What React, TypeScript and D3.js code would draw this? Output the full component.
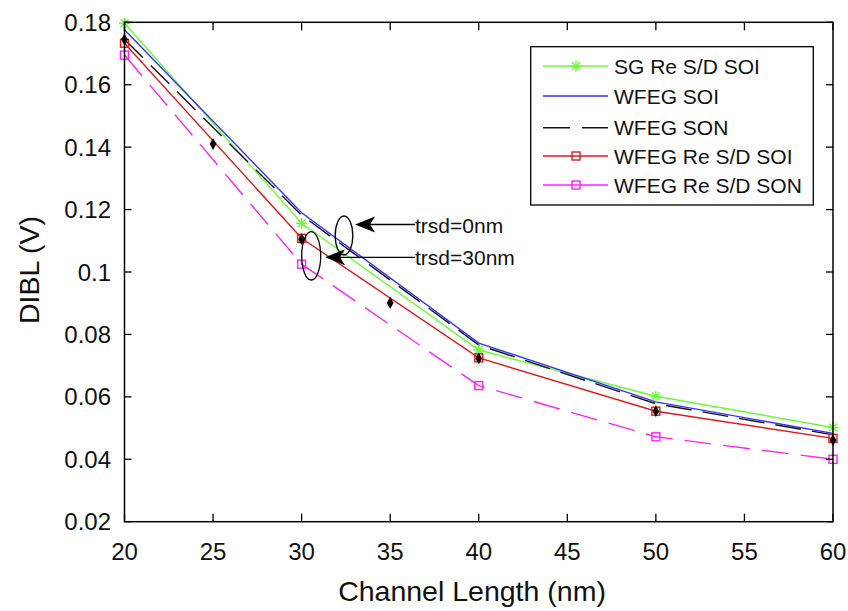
import React from "react";
import * as d3 from "d3";

const channelLength = [20, 30, 40, 50, 60];
const sgReSdSoi = [0.1797, 0.1156, 0.075, 0.0602, 0.0502];
const wfegSoi = [0.1776, 0.119, 0.0772, 0.0584, 0.0483];
const wfegSon = [0.1745, 0.1182, 0.0766, 0.0578, 0.0478];
const wfegReSdSoi = [0.1733, 0.1108, 0.0725, 0.0554, 0.0467];
const wfegReSdSon = [0.1695, 0.1025, 0.0636, 0.0472, 0.04];

const simLength = [20, 25, 30, 35, 40, 50, 60];
const simValues = [0.1745, 0.141, 0.1105, 0.0901, 0.0723, 0.0554, 0.0461];

const xTicks = [20, 25, 30, 35, 40, 45, 50, 55, 60];
const yTicks = [0.02, 0.04, 0.06, 0.08, 0.1, 0.12, 0.14, 0.16, 0.18];
const yTickLabels = ["0.02", "0.04", "0.06", "0.08", "0.1", "0.12", "0.14", "0.16", "0.18"];

const legendNames = ["SG Re S/D SOI", "WFEG SOI", "WFEG SON", "WFEG Re S/D SOI", "WFEG Re S/D SON"];

const FONT = "'Liberation Sans', Arial, Helvetica, sans-serif";

const L = 124.5, R = 833, T = 22.3, B = 521.7;

const x = d3.scaleLinear().domain([20, 60]).range([L, R]);
const y = d3.scaleLinear().domain([0.02, 0.18]).range([B, T]);

type Series = {
  name: string;
  values: number[];
  color: string;
  dash?: string;
  legendDash?: string;
  marker?: "star" | "square" | "none";
};

const series: Series[] = [
  { name: legendNames[0], values: sgReSdSoi, color: "#66ff33", marker: "star" },
  { name: legendNames[1], values: wfegSoi, color: "#3333ff", marker: "none" },
  { name: legendNames[2], values: wfegSon, color: "#111111", dash: "26,11", legendDash: "27,12", marker: "none" },
  { name: legendNames[3], values: wfegReSdSoi, color: "#e31a1a", marker: "square" },
  { name: legendNames[4], values: wfegReSdSon, color: "#ff22ff", dash: "27,12", marker: "square" },
];

const line = d3
  .line<[number, number]>()
  .x((d) => x(d[0]))
  .y((d) => y(d[1]));

function Marker({ kind, cx, cy, color }: { kind?: string; cx: number; cy: number; color: string }) {
  if (kind === "star") {
    const r = 5.5, r2 = 4;
    return (
      <g stroke={color} strokeWidth={1.4}>
        <line x1={cx - r} y1={cy} x2={cx + r} y2={cy} />
        <line x1={cx} y1={cy - r} x2={cx} y2={cy + r} />
        <line x1={cx - r2} y1={cy - r2} x2={cx + r2} y2={cy + r2} />
        <line x1={cx - r2} y1={cy + r2} x2={cx + r2} y2={cy - r2} />
      </g>
    );
  }
  if (kind === "square") {
    return <rect x={cx - 4} y={cy - 4} width={8} height={8} fill="none" stroke={color} strokeWidth={1.4} />;
  }
  return null;
}

const diamond = d3.symbol().type(d3.symbolDiamond).size(40)() as string;

function Arrow({ x1, x2, yv }: { x1: number; x2: number; yv: number }) {
  // x1: tip, x2: line end
  const back = x1 + 20, notch = x1 + 15, hw = 8;
  return (
    <g>
      <line x1={notch} y1={yv} x2={x2} y2={yv} stroke="#000" strokeWidth={1.3} />
      <path d={`M${x1},${yv} L${back},${yv - hw} L${notch},${yv} L${back},${yv + hw} Z`} fill="#000" />
    </g>
  );
}

export default function App() {
  const legX = 530.7, legY = 46.7, legW = 282.6, legH = 158.3;
  const legRowY = [66, 96, 127.7, 156, 185];
  return (
    <svg
      width={848}
      height={611}
      style={{ position: "absolute", left: 0, top: 0, background: "#fff" }}
      fontFamily={FONT}
    >
      <rect x={0} y={0} width={848} height={611} fill="#fff" />
      {/* data lines */}
      {series.map((s) => (
        <path
          key={s.name}
          d={line(channelLength.map((c, i) => [c, s.values[i]] as [number, number])) as string}
          fill="none"
          stroke={s.color}
          strokeWidth={1.4}
          strokeDasharray={s.dash}
        />
      ))}
      {/* markers */}
      {series.map((s) =>
        channelLength.map((c, i) => (
          <Marker key={s.name + i} kind={s.marker} cx={x(c)} cy={y(s.values[i])} color={s.color} />
        ))
      )}
      {simLength.map((c, i) => (
        <path key={"sim" + i} d={diamond} transform={`translate(${x(c)},${y(simValues[i])})`} fill="#000" />
      ))}
      {/* axes box */}
      <rect x={L} y={T} width={R - L} height={B - T} fill="none" stroke="#000" strokeWidth={1.5} />
      {xTicks.map((t) => (
        <g key={"xt" + t}>
          <line x1={x(t)} x2={x(t)} y1={B} y2={B - 8} stroke="#000" strokeWidth={1.3} />
          <line x1={x(t)} x2={x(t)} y1={T} y2={T + 8} stroke="#000" strokeWidth={1.3} />
          <text x={x(t)} y={560} textAnchor="middle" fontSize={24} fill="#111">
            {t}
          </text>
        </g>
      ))}
      {yTicks.map((t, i) => (
        <g key={"yt" + t}>
          <line x1={L} x2={L + 7} y1={y(t)} y2={y(t)} stroke="#000" strokeWidth={1.3} />
          <line x1={R} x2={R - 7} y1={y(t)} y2={y(t)} stroke="#000" strokeWidth={1.3} />
          <text x={111} y={y(t)} dy="0.36em" textAnchor="end" fontSize={24} fill="#111">
            {yTickLabels[i]}
          </text>
        </g>
      ))}
      <text x={472} y={601} textAnchor="middle" fontSize={28.5} fill="#111">
        Channel Length (nm)
      </text>
      <text transform="translate(39,270) rotate(-90)" textAnchor="middle" fontSize={28.5} fill="#111">
        DIBL (V)
      </text>
      {/* annotations */}
      <ellipse cx={344} cy={235.5} rx={8.8} ry={19.5} fill="none" stroke="#000" strokeWidth={1.3} />
      <ellipse cx={311.2} cy={255.8} rx={9.5} ry={24.2} fill="none" stroke="#000" strokeWidth={1.3} />
      <Arrow x1={355} x2={415} yv={224.5} />
      <Arrow x1={325} x2={415} yv={257.3} />
      <text x={415} y={232.5} fontSize={21} fill="#111">
        trsd=0nm
      </text>
      <text x={415} y={265} fontSize={21} fill="#111">
        trsd=30nm
      </text>
      {/* legend */}
      <rect x={legX} y={legY} width={legW} height={legH} fill="#fff" stroke="#000" strokeWidth={1.3} />
      {series.map((s, i) => (
        <g key={"leg" + i}>
          <line
            x1={543}
            x2={608}
            y1={legRowY[i]}
            y2={legRowY[i]}
            stroke={s.color}
            strokeWidth={1.4}
            strokeDasharray={s.legendDash}
          />
          <Marker kind={s.marker} cx={576} cy={legRowY[i]} color={s.color} />
          <text x={614} y={legRowY[i]} dy="0.36em" fontSize={21} fill="#111">
            {s.name}
          </text>
        </g>
      ))}
    </svg>
  );
}
